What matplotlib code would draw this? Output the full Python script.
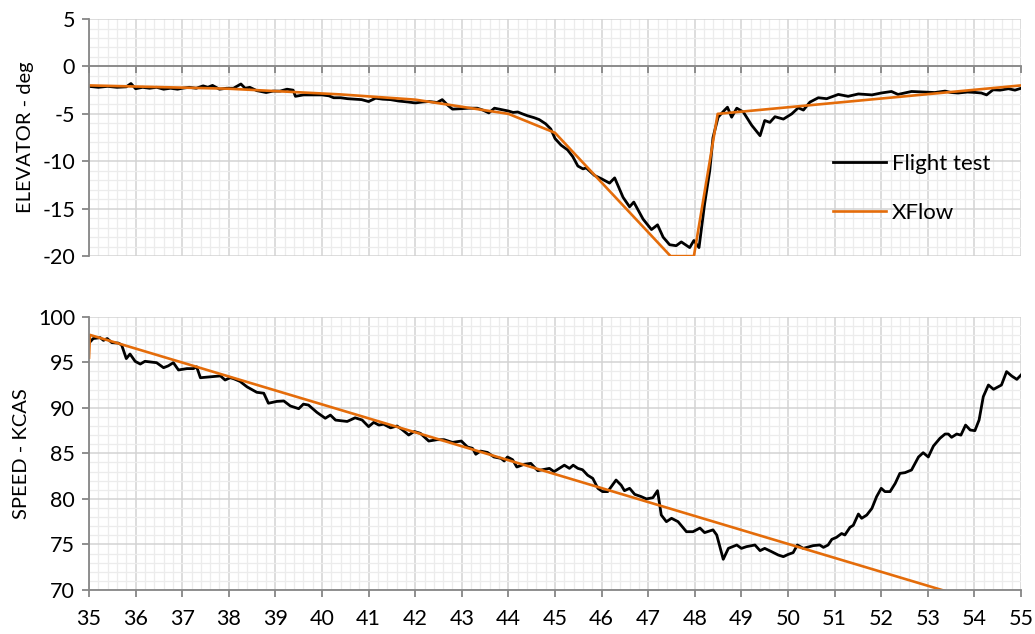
import matplotlib
matplotlib.use("Agg")
import matplotlib.pyplot as plt
from matplotlib.ticker import MultipleLocator

plt.rcParams['font.family'] = ['Lato', 'DejaVu Sans']
plt.rcParams['axes.unicode_minus'] = False

# elevator - flight test
t_elev = [35.0, 35.2, 35.4, 35.6, 35.8, 35.9, 36.0, 36.15, 36.3, 36.45, 36.6, 36.75, 36.9, 37.0,
          37.15, 37.3, 37.45, 37.55, 37.65, 37.8, 37.95, 38.1, 38.26, 38.35, 38.45, 38.6, 38.8,
          38.95, 39.1, 39.25, 39.38, 39.43, 39.6, 39.8, 40.0, 40.15, 40.25, 40.4, 40.55, 40.7,
          40.85, 41.0, 41.15, 41.3, 41.47, 41.65, 41.85, 42.0, 42.15, 42.3, 42.47, 42.58, 42.7,
          42.8, 43.0, 43.15, 43.33, 43.45, 43.58, 43.7, 43.85, 44.0, 44.1, 44.2, 44.3, 44.41,
          44.55, 44.66, 44.8, 44.91, 45.0, 45.13, 45.27, 45.38, 45.49, 45.6, 45.67, 45.85, 46.0,
          46.17, 46.28, 46.46, 46.6, 46.69, 46.89, 47.07, 47.2, 47.32, 47.46, 47.6, 47.71, 47.89,
          47.98, 48.09, 48.21, 48.32, 48.39, 48.5, 48.64, 48.7, 48.79, 48.9, 49.04, 49.22, 49.4,
          49.5, 49.61, 49.72, 49.9, 50.08, 50.22, 50.33, 50.47, 50.65, 50.83, 51.08, 51.29, 51.51,
          51.8, 52.0, 52.22, 52.36, 52.5, 52.65, 52.94, 53.15, 53.37, 53.5, 53.65, 53.85, 54.01,
          54.15, 54.26, 54.4, 54.55, 54.73, 54.87, 55.0]
elev_test = [-2.1, -2.2, -2.1, -2.2, -2.15, -1.8, -2.35, -2.2, -2.3, -2.2, -2.4, -2.3, -2.4, -2.3,
             -2.2, -2.3, -2.05, -2.2, -2.0, -2.4, -2.3, -2.3, -1.85, -2.3, -2.2, -2.55, -2.75,
             -2.6, -2.6, -2.4, -2.5, -3.15, -3.0, -3.0, -3.0, -3.1, -3.3, -3.3, -3.4, -3.45,
             -3.5, -3.7, -3.35, -3.45, -3.5, -3.65, -3.75, -3.85, -3.75, -3.7, -3.8, -3.5, -4.1,
             -4.5, -4.45, -4.4, -4.4, -4.6, -4.9, -4.4, -4.55, -4.7, -4.85, -4.8, -5.0, -5.2,
             -5.4, -5.6, -6.05, -6.6, -7.6, -8.3, -8.8, -9.5, -10.5, -10.8, -10.7, -11.5, -11.85,
             -12.3, -11.75, -13.8, -14.8, -14.3, -16.1, -17.2, -16.7, -18.0, -18.8, -18.9, -18.5, -19.1,
             -18.35, -19.1, -14.5, -11.0, -7.5, -5.35, -4.6, -4.3, -5.35, -4.4, -4.8, -6.2, -7.3,
             -5.7, -5.9, -5.3, -5.55, -5.0, -4.36, -4.6, -3.76, -3.3, -3.4, -2.95, -3.15, -2.9,
             -3.0, -2.8, -2.64, -2.95, -2.8, -2.64, -2.7, -2.75, -2.6, -2.75, -2.8, -2.7, -2.74,
             -2.8, -3.0, -2.46, -2.5, -2.35, -2.5, -2.3]

# elevator - XFlow
t_elev_xf = [35.0, 38.0, 40.4, 42.0, 43.0, 44.0, 45.0, 47.48, 47.98, 48.49, 55.0]
elev_xf = [-2.0, -2.35, -2.95, -3.5, -4.25, -5.0, -7.0, -20.0, -20.0, -5.0, -2.0]

# speed - flight test
t_spd = [35.0, 35.09, 35.24, 35.31, 35.39, 35.49, 35.63, 35.7, 35.8, 35.88, 35.99, 36.1, 36.2,
         36.45, 36.6, 36.7, 36.81, 36.92, 37.1, 37.24, 37.31, 37.39, 37.6, 37.82, 37.92, 38.03,
         38.1, 38.24, 38.39, 38.6, 38.75, 38.85, 39.03, 39.18, 39.32, 39.5, 39.6, 39.71, 39.89,
         40.07, 40.18, 40.29, 40.54, 40.71, 40.86, 41.0, 41.11, 41.22, 41.32, 41.47, 41.61, 41.72,
         41.86, 41.98, 42.11, 42.29, 42.47, 42.62, 42.8, 42.99, 43.12, 43.23, 43.3, 43.4, 43.55,
         43.69, 43.84, 43.91, 43.98, 44.09, 44.18, 44.34, 44.48, 44.63, 44.73, 44.88, 44.98, 45.09,
         45.2, 45.31, 45.39, 45.49, 45.59, 45.7, 45.81, 45.92, 46.02, 46.13, 46.31, 46.42, 46.49,
         46.6, 46.71, 46.85, 46.96, 47.1, 47.2, 47.28, 47.39, 47.5, 47.64, 47.82, 47.96, 48.11,
         48.21, 48.39, 48.47, 48.61, 48.72, 48.9, 49.0, 49.11, 49.29, 49.4, 49.5, 49.65, 49.79,
         49.9, 50.0, 50.11, 50.2, 50.33, 50.54, 50.68, 50.76, 50.86, 50.94, 51.04, 51.15, 51.22,
         51.33, 51.4, 51.51, 51.58, 51.69, 51.8, 51.9, 52.0, 52.08, 52.19, 52.3, 52.4, 52.51,
         52.65, 52.8, 52.9, 53.01, 53.12, 53.26, 53.37, 53.44, 53.51, 53.62, 53.71, 53.81, 53.91,
         54.01, 54.1, 54.19, 54.3, 54.41, 54.58, 54.69, 54.8, 54.91, 55.05]
spd_test = [97.1, 97.6, 97.7, 97.4, 97.6, 97.15, 97.1, 96.9, 95.4, 95.9, 95.1, 94.8, 95.1,
            94.95, 94.4, 94.6, 94.95, 94.15, 94.3, 94.3, 94.5, 93.3, 93.4, 93.5, 93.05, 93.3,
            93.2, 92.9, 92.3, 91.7, 91.6, 90.5, 90.7, 90.75, 90.2, 89.9, 90.4, 90.3, 89.5,
            88.85, 89.2, 88.65, 88.5, 88.9, 88.66, 87.93, 88.4, 88.1, 88.2, 87.8, 88.0, 87.6,
            87.01, 87.4, 87.2, 86.35, 86.5, 86.5, 86.2, 86.35, 85.7, 85.55, 84.9, 85.25, 85.1,
            84.6, 84.45, 84.16, 84.6, 84.3, 83.5, 83.8, 83.9, 83.1, 83.2, 83.35, 82.99, 83.35,
            83.7, 83.35, 83.7, 83.35, 83.2, 82.6, 82.25, 81.16, 80.8, 80.8, 82.07, 81.5, 80.9,
            81.16, 80.5, 80.25, 80.0, 80.13, 80.9, 78.23, 77.5, 77.87, 77.5, 76.4, 76.4, 76.8,
            76.3, 76.6, 76.04, 73.37, 74.57, 74.94, 74.57, 74.76, 74.94, 74.32, 74.57, 74.2, 73.84,
            73.66, 73.9, 74.1, 74.94, 74.57, 74.87, 74.94, 74.68, 74.94, 75.56, 75.78, 76.2, 76.04,
            76.88, 77.1, 78.34, 77.87, 78.23, 78.96, 80.24, 81.16, 80.8, 80.8, 81.7, 82.8, 82.88,
            83.17, 84.6, 85.07, 84.6, 85.8, 86.65, 87.12, 87.12, 86.76, 87.12, 87.0, 88.1, 87.56,
            87.49, 88.66, 91.22, 92.5, 92.03, 92.5, 93.97, 93.49, 93.12, 93.86]

# speed - XFlow
t_spd_xf = [35.0, 35.02, 55.0]
spd_xf = [95.5, 98.0, 67.4]

black = '#000000'
orange = '#E46C0A'

fig = plt.figure(figsize=(10.35, 6.34), dpi=100)
ax1 = fig.add_axes([0.086, 0.596, 0.9005, 0.374])
ax2 = fig.add_axes([0.086, 0.0694, 0.9005, 0.4311])


def excel_style(ax, ylo, yhi):
    ax.set_xlim(35, 55)
    ax.set_ylim(ylo, yhi)
    ax.xaxis.set_major_locator(MultipleLocator(1))
    ax.xaxis.set_minor_locator(MultipleLocator(0.2))
    ax.yaxis.set_major_locator(MultipleLocator(5))
    ax.yaxis.set_minor_locator(MultipleLocator(1))
    ax.grid(which='minor', color='#ececec', lw=0.9)
    ax.grid(which='major', color='#d3d3d3', lw=1.1)
    ax.set_axisbelow(True)
    for s in ['top', 'right']:
        ax.spines[s].set_visible(False)
    for s in ['left', 'bottom']:
        ax.spines[s].set_color('#868686')
        ax.spines[s].set_linewidth(1.3)
    ax.tick_params(which='major', direction='out', length=5, width=1.3, color='#868686',
                   labelsize=15.5, pad=5)
    ax.tick_params(which='minor', length=0)


excel_style(ax1, -20, 5)
ax1.spines['bottom'].set_position(('data', 0))
ax1.tick_params(axis='x', labelbottom=False)
ax1.plot(t_elev, elev_test, color=black, lw=2.0, label='Flight test')
ax1.plot(t_elev_xf, elev_xf, color=orange, lw=1.9, label='XFlow')
ax1.set_ylabel('ELEVATOR - deg', fontsize=14.5, labelpad=6)
ax1.legend(loc='upper left', bbox_to_anchor=(0.798, 0.43), frameon=False, fontsize=16,
           handlelength=2.4, handletextpad=0.25, labelspacing=1.3, borderpad=0, borderaxespad=0)

excel_style(ax2, 70, 100)
ax2.tick_params(axis='x', pad=9)
ax2.plot(t_spd, spd_test, color=black, lw=2.0)
ax2.plot(t_spd_xf, spd_xf, color=orange, lw=1.9)
ax2.set_ylabel('SPEED - KCAS', fontsize=14.5, labelpad=6)

fig.align_ylabels([ax1, ax2])
fig.savefig('out.png', dpi=100)
